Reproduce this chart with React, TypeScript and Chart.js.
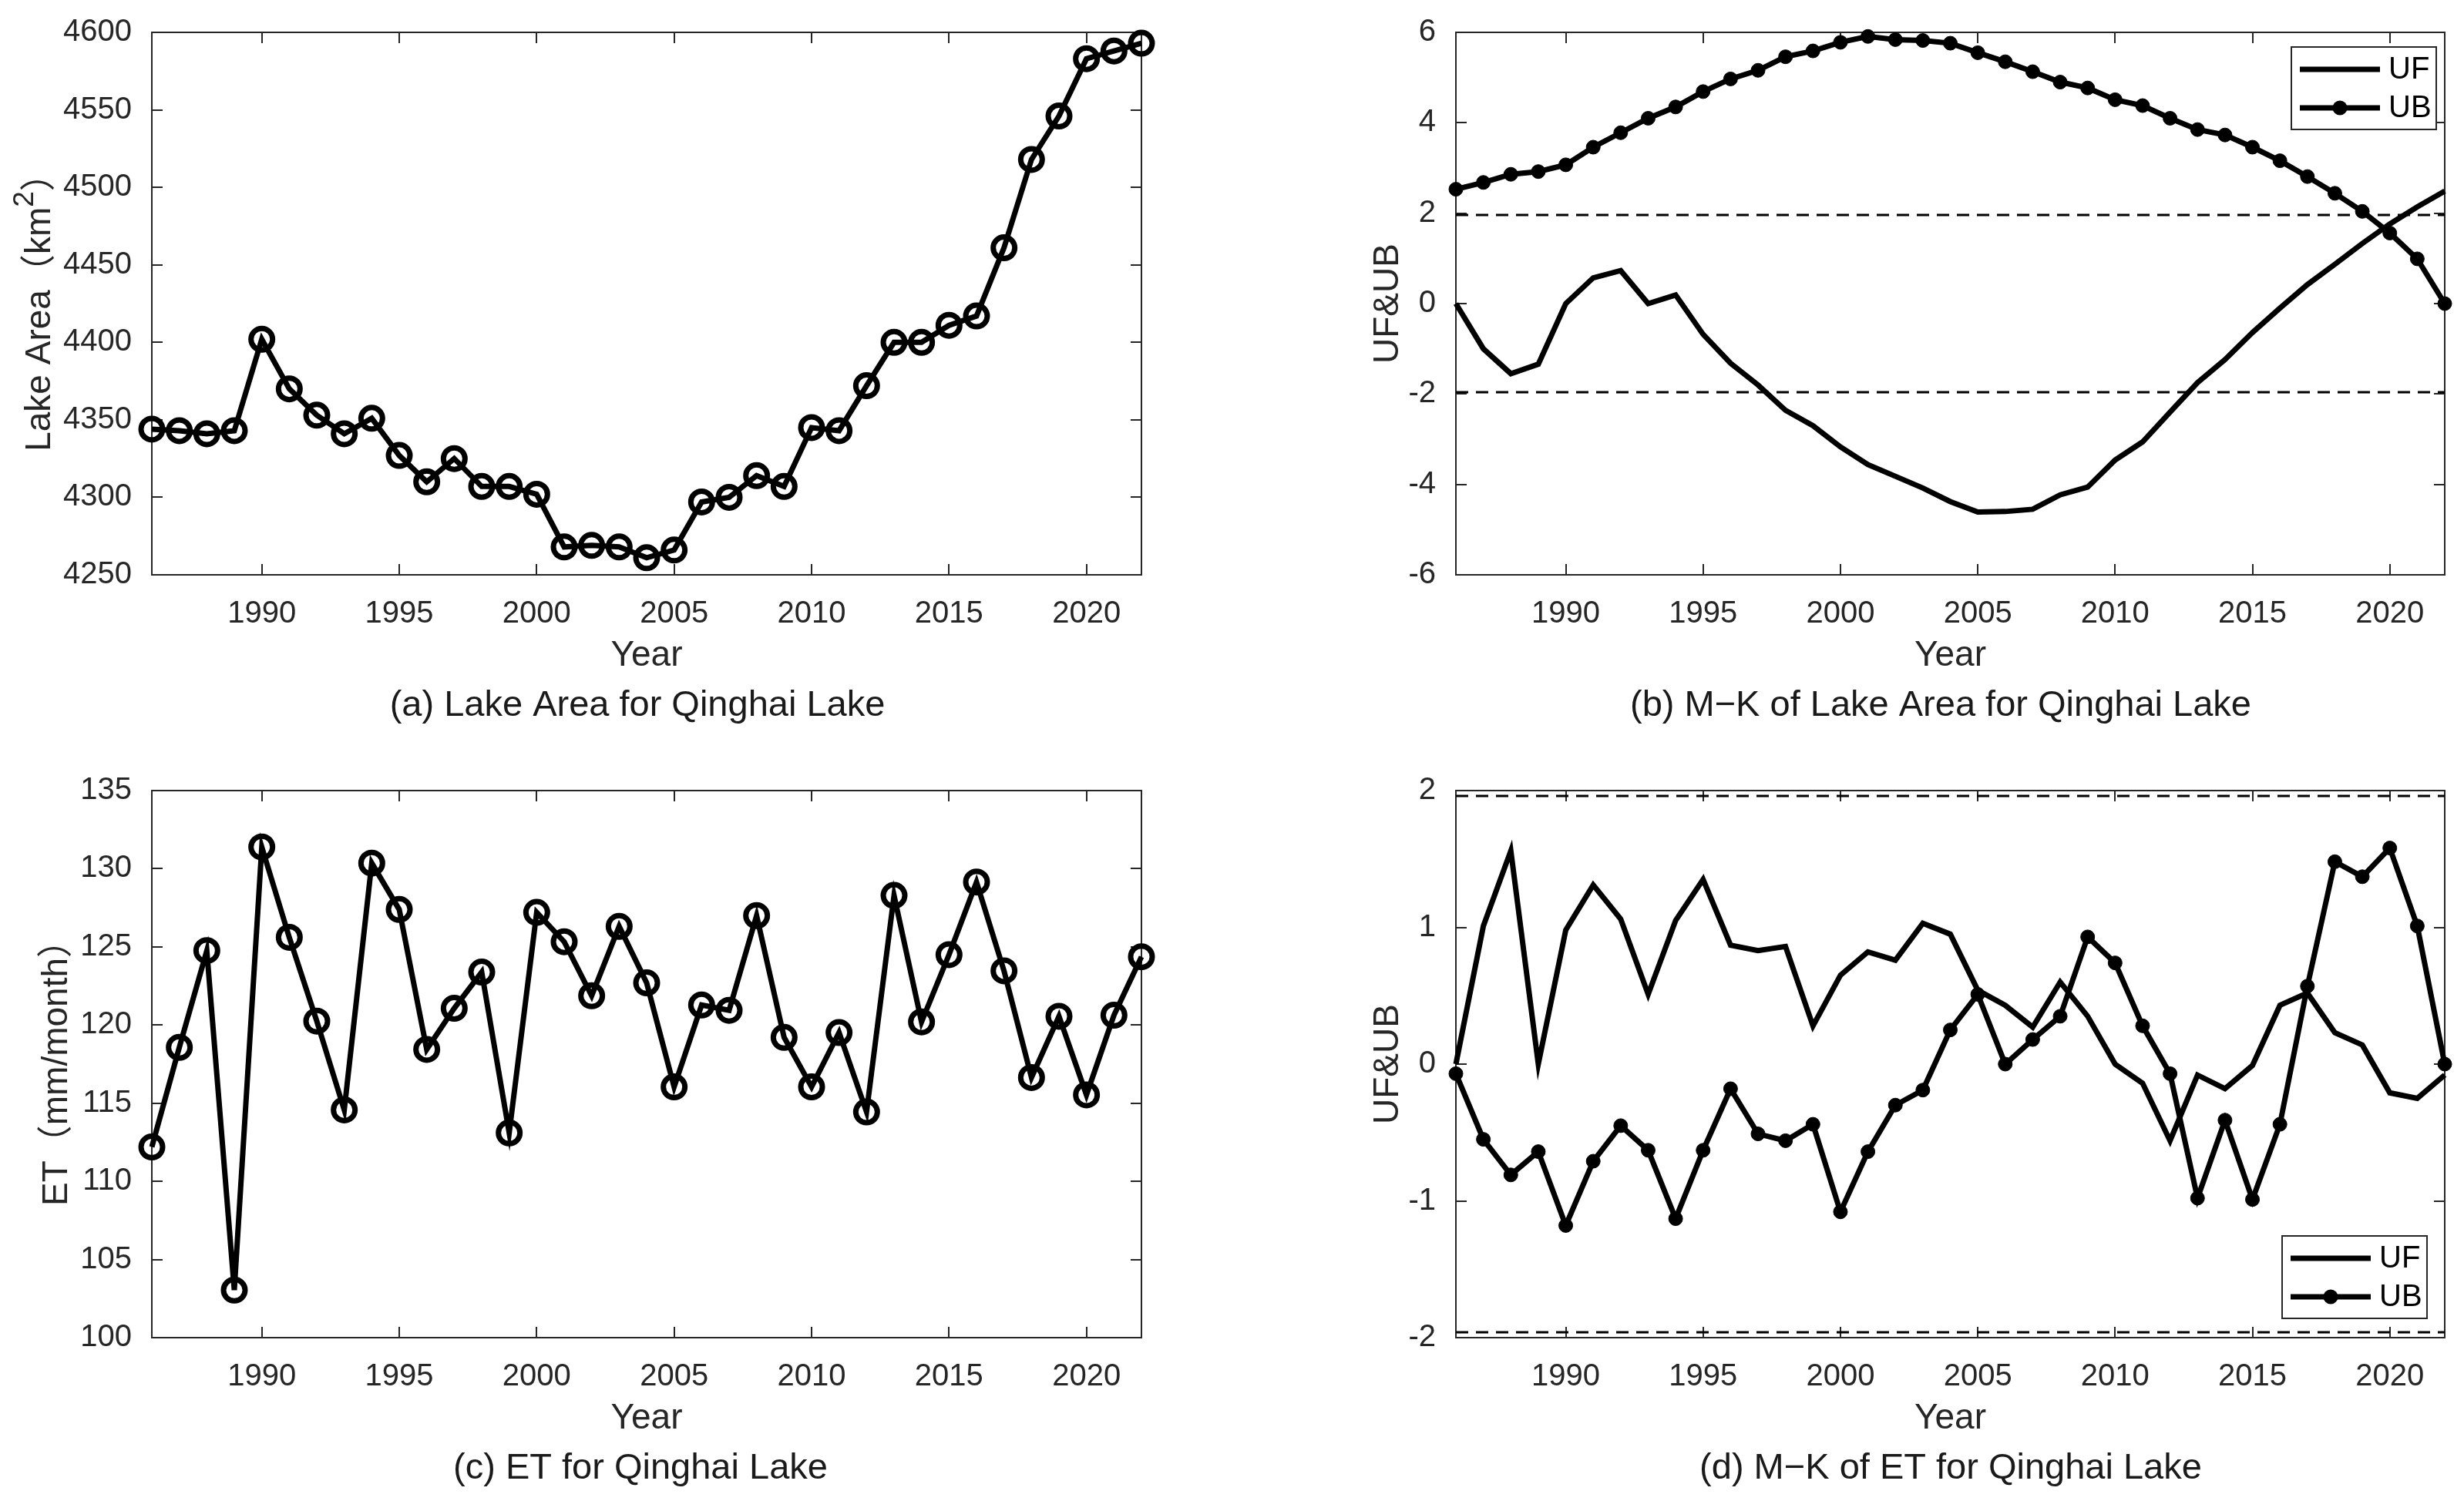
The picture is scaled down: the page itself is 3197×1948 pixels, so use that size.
import React, { useEffect, useRef } from 'react';
import { Chart, registerables } from 'chart.js';

Chart.register(...registerables);

// ---------------- data ----------------
const YEARS = [
  1986, 1987, 1988, 1989, 1990, 1991, 1992, 1993, 1994, 1995, 1996, 1997, 1998,
  1999, 2000, 2001, 2002, 2003, 2004, 2005, 2006, 2007, 2008, 2009, 2010, 2011,
  2012, 2013, 2014, 2015, 2016, 2017, 2018, 2019, 2020, 2021, 2022,
];
const X_TICKS = [1990, 1995, 2000, 2005, 2010, 2015, 2020];

const LAKE_AREA = [
  4344, 4343, 4341, 4343, 4402, 4370, 4353, 4341, 4351, 4327, 4310, 4325, 4307,
  4307, 4302, 4268, 4269, 4268, 4261, 4266, 4297, 4300, 4314, 4307, 4345, 4343,
  4372, 4400, 4400, 4411, 4417, 4461, 4518, 4546, 4583, 4588, 4593,
];
const LAKE_UF = [
  0, -1.0, -1.55, -1.34, 0.0, 0.57, 0.73, 0.0, 0.19, -0.68, -1.32, -1.8, -2.36,
  -2.7, -3.17, -3.56, -3.82, -4.08, -4.38, -4.61, -4.6, -4.55, -4.23, -4.06,
  -3.46, -3.06, -2.4, -1.75, -1.24, -0.64, -0.1, 0.42, 0.87, 1.33, 1.76, 2.14, 2.49,
];
const LAKE_UB = [
  2.53, 2.68, 2.86, 2.92, 3.07, 3.46, 3.78, 4.1, 4.35, 4.69, 4.97, 5.16, 5.46,
  5.59, 5.78, 5.91, 5.84, 5.82, 5.76, 5.55, 5.35, 5.13, 4.9, 4.77, 4.51, 4.38,
  4.1, 3.85, 3.73, 3.46, 3.16, 2.81, 2.44, 2.04, 1.56, 0.99, 0.0,
];
const ET = [
  112.2, 118.57, 124.76, 103.04, 131.39, 125.61, 120.25, 114.57, 130.36, 127.39,
  118.44, 121.07, 123.39, 113.1, 127.21, 125.33, 121.87, 126.31, 122.7, 116.04,
  121.28, 120.94, 127.0, 119.21, 116.04, 119.52, 114.44, 128.29, 120.2, 124.5,
  129.15, 123.47, 116.64, 120.56, 115.53, 120.63, 124.37,
];
const ET_UF = [
  0, 1.01, 1.56, 0.0, 0.98, 1.31, 1.06, 0.51, 1.05, 1.35, 0.87, 0.83, 0.86, 0.28,
  0.65, 0.82, 0.76, 1.03, 0.95, 0.54, 0.43, 0.27, 0.6, 0.35, 0.0, -0.14, -0.56,
  -0.08, -0.18, -0.01, 0.43, 0.52, 0.23, 0.14, -0.21, -0.25, -0.08,
];
const ET_UB = [
  -0.07, -0.55, -0.81, -0.64, -1.18, -0.71, -0.45, -0.63, -1.13, -0.63, -0.18,
  -0.51, -0.56, -0.44, -1.08, -0.64, -0.3, -0.19, 0.25, 0.51, 0.0, 0.18, 0.35,
  0.93, 0.74, 0.28, -0.07, -0.98, -0.41, -0.99, -0.44, 0.57, 1.48, 1.37, 1.58,
  1.01, 0.0,
];
const CRITICAL = 1.96;
const SERIES_NAMES = ['UF', 'UB'];
const X_TITLE = 'Year';
const Y_TITLES = ['Lake Area（km²）', 'UF&UB', 'ET（mm/month）', 'UF&UB'];
const CAPTIONS = [
  '(a) Lake Area for Qinghai Lake',
  '(b) M−K of Lake Area for Qinghai Lake',
  '(c) ET for Qinghai Lake',
  '(d) M−K of ET for Qinghai Lake',
];

// ---------------- style / layout ----------------
const FONT = '"Liberation Sans", Arial, "Noto Sans CJK SC", sans-serif';
const AXIS_COLOR = '#262626';
const TICK_SIZE = 40;
const TITLE_SIZE = 46;
const SUP_SIZE = 37;
const CAPTION_SIZE = 47;
const X_AXIS_H = 133;
const SUPERSCRIPTS: Record<string, string> = { '²': '2' };

type Cfg = {
  left: number; top: number; w: number; h: number;
  chartL: number; chartR: number; chartT: number; chartB: number;
  yTitleCX: number; captionCX: number;
  yMin: number; yMax: number; yStep: number;
  yTitle: string; caption: string;
  kind: 'series' | 'mk';
  values?: number[]; uf?: number[]; ub?: number[];
  legend?: { anchor: 'tr' | 'br'; dx: number; dy: number };
};

const PANELS: Cfg[] = [
  {
    left: 0, top: 0, w: 1560, h: 975, chartL: 197, chartR: 1481, chartT: 36, chartB: 746,
    yTitleCX: 48, captionCX: 827, yMin: 4250, yMax: 4600, yStep: 50,
    yTitle: Y_TITLES[0], caption: CAPTIONS[0], kind: 'series', values: LAKE_AREA,
  },
  {
    left: 1560, top: 0, w: 1637, h: 975, chartL: 1889, chartR: 3172, chartT: 36, chartB: 746,
    yTitleCX: 1797, captionCX: 2518, yMin: -6, yMax: 6, yStep: 2,
    yTitle: Y_TITLES[1], caption: CAPTIONS[1], kind: 'mk', uf: LAKE_UF, ub: LAKE_UB,
    legend: { anchor: 'tr', dx: 11, dy: 19 },
  },
  {
    left: 0, top: 975, w: 1560, h: 973, chartL: 197, chartR: 1481, chartT: 1026, chartB: 1736,
    yTitleCX: 70, captionCX: 831, yMin: 100, yMax: 135, yStep: 5,
    yTitle: Y_TITLES[2], caption: CAPTIONS[2], kind: 'series', values: ET,
  },
  {
    left: 1560, top: 975, w: 1637, h: 973, chartL: 1889, chartR: 3172, chartT: 1026, chartB: 1736,
    yTitleCX: 1797, captionCX: 2531, yMin: -2, yMax: 2, yStep: 1,
    yTitle: Y_TITLES[3], caption: CAPTIONS[3], kind: 'mk', uf: ET_UF, ub: ET_UB,
    legend: { anchor: 'br', dx: 23, dy: 25 },
  },
];

const toXY = (vals: number[]) => YEARS.map((yr, i) => ({ x: yr, y: vals[i] }));

function splitSegments(text: string) {
  const segs: { t: string; sup: boolean }[] = [];
  for (const ch of Array.from(text)) {
    const sup = ch in SUPERSCRIPTS;
    const t = sup ? SUPERSCRIPTS[ch] : ch;
    const last = segs[segs.length - 1];
    if (last && last.sup === sup) last.t += t;
    else segs.push({ t, sup });
  }
  return segs;
}

function Panel({ cfg }: { cfg: Cfg }) {
  const ref = useRef<HTMLCanvasElement | null>(null);

  useEffect(() => {
    const canvas = ref.current;
    if (!canvas) return;
    const datasets: any[] = [];
    if (cfg.kind === 'series') {
      datasets.push({
        data: toXY(cfg.values!),
        borderColor: '#000',
        borderWidth: 7,
        pointRadius: 14,
        pointBorderWidth: 7,
        pointBorderColor: '#000',
        pointBackgroundColor: 'rgba(0,0,0,0)',
        tension: 0,
        clip: false,
      });
    } else {
      datasets.push({
        label: SERIES_NAMES[0],
        data: toXY(cfg.uf!),
        borderColor: '#000',
        borderWidth: 7,
        pointRadius: 0,
        tension: 0,
        clip: false,
      });
      datasets.push({
        label: SERIES_NAMES[1],
        data: toXY(cfg.ub!),
        borderColor: '#000',
        borderWidth: 7,
        pointRadius: 9,
        pointBorderWidth: 1,
        pointBorderColor: '#000',
        pointBackgroundColor: '#000',
        tension: 0,
        clip: false,
      });
      [CRITICAL, -CRITICAL].forEach((c) => {
        datasets.push({
          data: [
            { x: YEARS[0], y: c },
            { x: YEARS[YEARS.length - 1], y: c },
          ],
          borderColor: '#000',
          borderWidth: 3,
          borderDash: [16, 10],
          pointRadius: 0,
          clip: false,
        });
      });
    }

    const tickFont = { family: FONT, size: TICK_SIZE };
    const titleFont = { family: FONT, size: TITLE_SIZE, lineHeight: 1.2 };

    const matlabPlugin = {
      id: 'matlabAxes',
      beforeDatasetsDraw(chart: any) {
        const { ctx, chartArea } = chart;
        const { left, right, top, bottom } = chartArea;
        const xs = chart.scales.x;
        const ys = chart.scales.y;
        ctx.save();
        ctx.strokeStyle = AXIS_COLOR;
        ctx.lineWidth = 2;
        ctx.strokeRect(left, top, right - left, bottom - top);
        const tl = 14;
        ctx.beginPath();
        X_TICKS.forEach((v) => {
          const px = Math.round(xs.getPixelForValue(v));
          ctx.moveTo(px, bottom);
          ctx.lineTo(px, bottom - tl);
          ctx.moveTo(px, top);
          ctx.lineTo(px, top + tl);
        });
        ys.ticks.forEach((t: any) => {
          const py = Math.round(ys.getPixelForValue(t.value));
          ctx.moveTo(left, py);
          ctx.lineTo(left + tl, py);
          ctx.moveTo(right, py);
          ctx.lineTo(right - tl, py);
        });
        ctx.stroke();

        // rotated y-axis title with superscript support
        const segs = splitSegments(cfg.yTitle);
        const fontN = `${TITLE_SIZE}px ${FONT}`;
        const fontS = `${SUP_SIZE}px ${FONT}`;
        let total = 0;
        const widths = segs.map((s) => {
          ctx.font = s.sup ? fontS : fontN;
          const w = ctx.measureText(s.t).width;
          total += w;
          return w;
        });
        ctx.translate(cfg.yTitleCX - cfg.left, (top + bottom) / 2);
        ctx.rotate(-Math.PI / 2);
        ctx.fillStyle = AXIS_COLOR;
        ctx.textAlign = 'left';
        ctx.textBaseline = 'alphabetic';
        const base = TITLE_SIZE * 0.36;
        let x = -total / 2;
        segs.forEach((s, i) => {
          ctx.font = s.sup ? fontS : fontN;
          ctx.fillText(s.t, x, s.sup ? base - 22 : base);
          x += widths[i];
        });
        ctx.restore();
      },
      afterDatasetsDraw(chart: any) {
        if (!cfg.legend) return;
        const { ctx, chartArea } = chart;
        const bw = 188;
        const bh = 107;
        const bx = chartArea.right - cfg.legend.dx - bw;
        const by =
          cfg.legend.anchor === 'tr'
            ? chartArea.top + cfg.legend.dy
            : chartArea.bottom - cfg.legend.dy - bh;
        ctx.save();
        ctx.fillStyle = '#fff';
        ctx.fillRect(bx, by, bw, bh);
        ctx.strokeStyle = AXIS_COLOR;
        ctx.lineWidth = 2;
        ctx.strokeRect(bx, by, bw, bh);
        const rows = [29, 79];
        rows.forEach((ry, i) => {
          const y = by + ry;
          ctx.strokeStyle = '#000';
          ctx.lineWidth = 7;
          ctx.beginPath();
          ctx.moveTo(bx + 11, y);
          ctx.lineTo(bx + 115, y);
          ctx.stroke();
          if (i === 1) {
            ctx.fillStyle = '#000';
            ctx.beginPath();
            ctx.arc(bx + 63, y, 9.5, 0, Math.PI * 2);
            ctx.fill();
          }
          ctx.fillStyle = '#000';
          ctx.font = `${TICK_SIZE}px ${FONT}`;
          ctx.textAlign = 'left';
          ctx.textBaseline = 'middle';
          ctx.fillText(SERIES_NAMES[i], bx + 126, y + 1);
        });
        ctx.restore();
      },
      afterDraw(chart: any) {
        const { ctx, chartArea } = chart;
        ctx.save();
        ctx.fillStyle = '#1a1a1a';
        ctx.font = `${CAPTION_SIZE}px ${FONT}`;
        ctx.textAlign = 'center';
        ctx.textBaseline = 'middle';
        ctx.fillText(cfg.caption, cfg.captionCX - cfg.left, chartArea.bottom + 170);
        ctx.restore();
      },
    };

    const chart = new Chart(canvas, {
      type: 'line',
      data: { datasets },
      options: {
        animation: false,
        responsive: false,
        events: [],
        layout: {
          padding: {
            left: 0,
            top: cfg.chartT - cfg.top,
            right: cfg.left + cfg.w - cfg.chartR,
            bottom: cfg.h - (cfg.chartB - cfg.top) - X_AXIS_H,
          },
        },
        plugins: {
          legend: { display: false },
          tooltip: { enabled: false },
          title: { display: false },
        },
        scales: {
          x: {
            type: 'linear',
            min: YEARS[0],
            max: YEARS[YEARS.length - 1],
            grid: { display: false },
            border: { display: false },
            ticks: {
              font: tickFont,
              color: AXIS_COLOR,
              padding: 19,
              maxRotation: 0,
              autoSkip: false,
              callback: (v: any) => String(v),
            },
            afterBuildTicks: (s: any) => {
              s.ticks = X_TICKS.map((v) => ({ value: v }));
            },
            afterFit: (s: any) => {
              s.height = X_AXIS_H;
            },
            title: {
              display: true,
              text: X_TITLE,
              font: titleFont,
              color: AXIS_COLOR,
              padding: { top: 0, bottom: 0 },
            },
          },
          y: {
            type: 'linear',
            min: cfg.yMin,
            max: cfg.yMax,
            grid: { display: false },
            border: { display: false },
            ticks: {
              font: tickFont,
              color: AXIS_COLOR,
              padding: 18,
              stepSize: cfg.yStep,
              callback: (v: any) => String(v),
            },
            afterFit: (s: any) => {
              s.width = cfg.chartL - cfg.left;
            },
            title: { display: false },
          },
        },
      } as any,
      plugins: [matlabPlugin as any],
    });
    return () => chart.destroy();
  }, [cfg]);

  return (
    <canvas
      ref={ref}
      width={cfg.w}
      height={cfg.h}
      style={{ position: 'absolute', left: cfg.left, top: cfg.top, width: cfg.w, height: cfg.h }}
    />
  );
}

export default function App() {
  return (
    <div
      style={{
        position: 'absolute',
        left: 0,
        top: 0,
        width: 3197,
        height: 1948,
        background: '#fff',
        overflow: 'hidden',
      }}
    >
      {PANELS.map((p, i) => (
        <Panel key={i} cfg={p} />
      ))}
    </div>
  );
}
